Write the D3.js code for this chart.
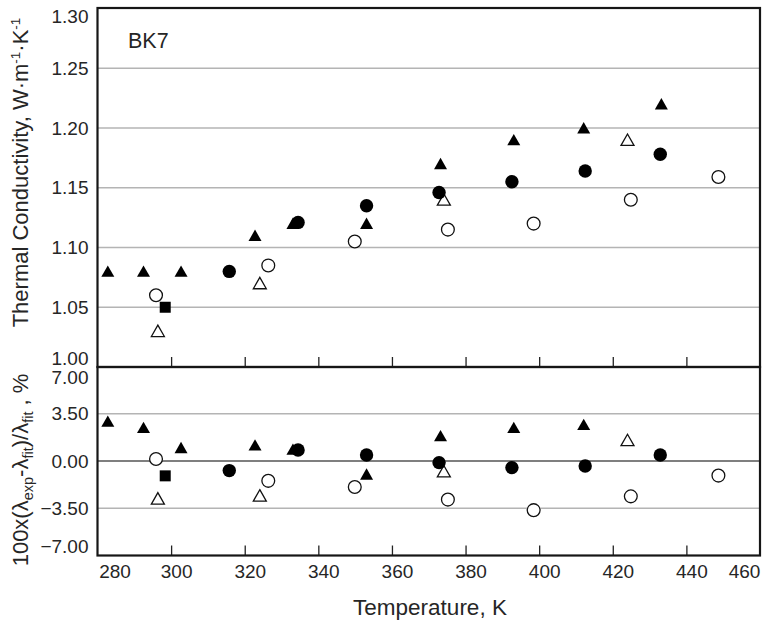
<!DOCTYPE html>
<html>
<head>
<meta charset="utf-8">
<script src="https://cdn.jsdelivr.net/npm/d3@7"></script>
<style>
  html, body { margin: 0; padding: 0; background: #fff; }
  svg { display: block; }
  text { font-family: "Liberation Sans", Arial, sans-serif; fill: #262626; }
</style>
</head>
<body>
<svg id="chart" width="763" height="625"></svg>
<script>
// ---- Data ----
const xTicks = [280, 300, 320, 340, 360, 380, 400, 420, 440, 460];
const kTicks = [1.00, 1.05, 1.10, 1.15, 1.20, 1.25, 1.30];
const devTicks = [-7.00, -3.50, 0.00, 3.50, 7.00];

// filled triangles
const tempFilledTri = [282.8, 292.5, 302.7, 322.8, 333.1, 353.1, 373.2, 393.1, 412.1, 433.2];
const kFilledTri    = [1.080, 1.080, 1.080, 1.110, 1.120, 1.120, 1.170, 1.190, 1.200, 1.220];
const devFilledTri  = [2.93, 2.47, 0.98, 1.17, 0.86, -0.98, 1.86, 2.47, 2.69, null];

// filled circles
const tempFilledCirc = [315.8, 334.5, 353.1, 372.8, 392.6, 412.5, 432.9];
const kFilledCirc    = [1.080, 1.121, 1.135, 1.146, 1.155, 1.164, 1.178];
const devFilledCirc  = [-0.71, 0.81, 0.44, -0.12, -0.49, -0.37, 0.44];

// open circles
const tempOpenCirc = [295.9, 326.4, 349.9, 375.2, 398.5, 424.9, 448.7];
const kOpenCirc    = [1.060, 1.085, 1.105, 1.115, 1.120, 1.140, 1.159];
const devOpenCirc  = [0.15, -1.47, -1.93, -2.86, -3.64, -2.62, -1.08];

// open triangles
const tempOpenTri = [296.4, 324.1, 374.1, 424.0];
const kOpenTri    = [1.030, 1.070, 1.140, 1.190];
const devOpenTri  = [-2.79, -2.57, -0.78, 1.54];

// filled square
const tempSquare = [298.4];
const kSquare    = [1.050];
const devSquare  = [-1.10];

// ---- Layout ----
const svg = d3.select("#chart");
const L = 97.5, R = 760;
const topT = 8, topB = 367, botB = 555.5;

const x = d3.scaleLinear().domain([280, 460]).range([L, R]);
const yK = d3.scaleLinear().domain([1.0, 1.3]).range([topB, 8.5]);
const yD = d3.scaleLinear().domain([-7, 7]).range([botB, 366.5]);

const zip = (t, v) => t.map((d, i) => ({t: d, v: v[i]})).filter(d => d.v !== null);

// gridlines
svg.append("g").selectAll("line").data(kTicks.filter(v => v > 1.0 && v < 1.3))
  .join("line")
  .attr("x1", L).attr("x2", R)
  .attr("y1", d => yK(d)).attr("y2", d => yK(d))
  .attr("stroke", "#b4b4b4").attr("stroke-width", 1.3);
svg.append("g").selectAll("line").data(devTicks.filter(v => v > -7 && v < 7))
  .join("line")
  .attr("x1", L).attr("x2", R)
  .attr("y1", d => yD(d)).attr("y2", d => yD(d))
  .attr("stroke", d => d === 0 ? "#555" : "#b4b4b4").attr("stroke-width", 1.3);

// x ticks (inner, pointing up) at bottom of both panels
function xAxisTicks(yPos, withLabels) {
  const ax = d3.axisBottom(x).tickValues(xTicks).tickSize(-10).tickPadding(9)
    .tickFormat(d3.format("d"));
  const g = svg.append("g").attr("transform", `translate(0,${yPos})`).call(ax);
  g.select(".domain").remove();
  g.selectAll(".tick line").attr("stroke", "#222").attr("stroke-width", 1.3)
    .filter(d => d === 280 || d === 460).remove();
  if (!withLabels) g.selectAll(".tick text").remove();
  else {
    g.selectAll(".tick text")
      .attr("font-size", 19).attr("fill", "#262626")
      .attr("font-family", '"Liberation Sans", Arial, sans-serif')
      .attr("dx", d => d === 280 ? 17 : d === 460 ? -16 : 5);
  }
}
xAxisTicks(topB, false);
xAxisTicks(botB, true);

// y axis labels
function yLabels(scale, vals, lowEnd, highEnd, dyLow, dyHigh) {
  const ax = d3.axisLeft(scale).tickValues(vals).tickSize(0).tickPadding(9)
    .tickFormat(d3.format(".2f"));
  const g = svg.append("g").attr("transform", `translate(${L},0)`).call(ax);
  g.select(".domain").remove();
  g.selectAll(".tick text")
    .attr("font-size", 19).attr("fill", "#262626")
    .attr("font-family", '"Liberation Sans", Arial, sans-serif')
    .attr("transform", d => d === lowEnd ? `translate(0,${dyLow})` : d === highEnd ? `translate(0,${dyHigh})` : null);
}
yLabels(yK, kTicks, 1.0, 1.3, -9, 8);
yLabels(yD, devTicks, -7, 7, -9, 11);

// frames
const frame = svg.append("g").attr("fill", "none").attr("stroke", "#161616").attr("stroke-width", 2.2);
frame.append("rect").attr("x", L).attr("y", topT).attr("width", R - L).attr("height", topB - topT);
frame.append("rect").attr("x", L).attr("y", topB).attr("width", R - L).attr("height", botB - topB);

// markers
const triPath = "M0,-6L6.5,5.4L-6.5,5.4Z";
const sqPath = "M-5.5,-5.5H5.5V5.5H-5.5Z";

function drawPanel(y, sets) {
  const g = svg.append("g");
  g.selectAll(null).data(sets.filledTri).join("path")
    .attr("d", triPath).attr("fill", "#000")
    .attr("transform", d => `translate(${x(d.t)},${y(d.v)})`);
  g.selectAll(null).data(sets.openTri).join("path")
    .attr("d", triPath).attr("fill", "#fff").attr("stroke", "#111").attr("stroke-width", 1.3)
    .attr("transform", d => `translate(${x(d.t)},${y(d.v)})`);
  g.selectAll(null).data(sets.openCirc).join("circle")
    .attr("cx", d => x(d.t)).attr("cy", d => y(d.v)).attr("r", 6.4)
    .attr("fill", "#fff").attr("stroke", "#111").attr("stroke-width", 1.3);
  g.selectAll(null).data(sets.square).join("path")
    .attr("d", sqPath).attr("fill", "#000")
    .attr("transform", d => `translate(${x(d.t)},${y(d.v)})`);
  g.selectAll(null).data(sets.filledCirc).join("circle")
    .attr("cx", d => x(d.t)).attr("cy", d => y(d.v)).attr("r", 6.7)
    .attr("fill", "#000");
}

drawPanel(yK, {
  filledTri: zip(tempFilledTri, kFilledTri),
  openTri: zip(tempOpenTri, kOpenTri),
  openCirc: zip(tempOpenCirc, kOpenCirc),
  square: zip(tempSquare, kSquare),
  filledCirc: zip(tempFilledCirc, kFilledCirc)
});
drawPanel(yD, {
  filledTri: zip(tempFilledTri, devFilledTri),
  openTri: zip(tempOpenTri, devOpenTri),
  openCirc: zip(tempOpenCirc, devOpenCirc),
  square: zip(tempSquare, devSquare),
  filledCirc: zip(tempFilledCirc, devFilledCirc)
});

// BK7 label
svg.append("text").attr("x", 128).attr("y", 48).attr("font-size", 21.5).text("BK7");

// x title
svg.append("text").attr("x", 430).attr("y", 615).attr("text-anchor", "middle")
  .attr("font-size", 22.5).text("Temperature, K");

// y title (top)
const t1 = svg.append("text").attr("text-anchor", "middle").attr("font-size", 22)
  .attr("transform", `translate(28,${(topT + 337) / 2}) rotate(-90)`);
t1.append("tspan").text("Thermal Conductivity, W·m");
t1.append("tspan").attr("dy", -8).attr("font-size", 13.5).text("-1");
t1.append("tspan").attr("dy", 8).text("·K");
t1.append("tspan").attr("dy", -8).attr("font-size", 13.5).text("-1");

// y title (bottom)
const t2 = svg.append("text").attr("text-anchor", "middle").attr("font-size", 22)
  .attr("transform", `translate(28,470) rotate(-90)`);
t2.append("tspan").text("100x(λ");
t2.append("tspan").attr("dy", 5).attr("font-size", 14.5).text("exp");
t2.append("tspan").attr("dy", -5).text("-λ");
t2.append("tspan").attr("dy", 5).attr("font-size", 14.5).text("fit");
t2.append("tspan").attr("dy", -5).text(")/λ");
t2.append("tspan").attr("dy", 5).attr("font-size", 14.5).text("fit");
t2.append("tspan").attr("dy", -5).text(" , %");
</script>
</body>
</html>
